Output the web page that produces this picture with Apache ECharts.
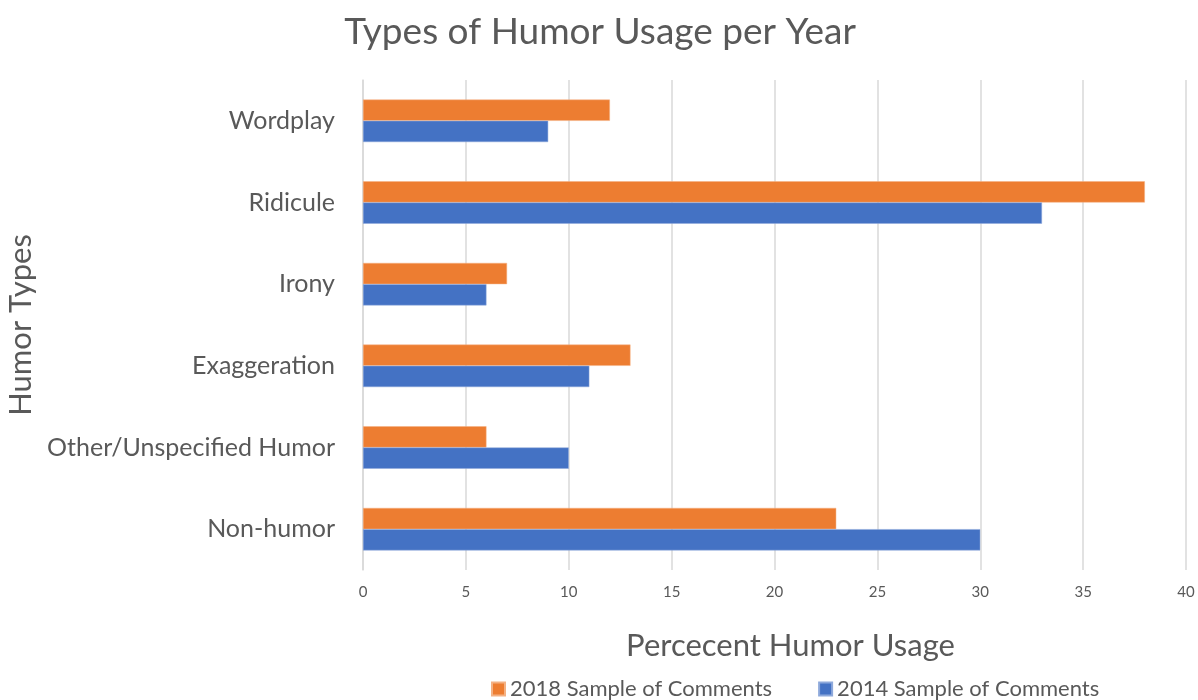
<!DOCTYPE html>
<html>
<head>
<meta charset="utf-8">
<script src="https://cdn.jsdelivr.net/npm/echarts@6/dist/echarts.min.js"></script>
<style>html,body{margin:0;padding:0;background:#fff}#c{width:1198px;height:700px}</style>
</head>
<body>
<div id="c"></div>
<script>
// Categories listed bottom to top (ECharts category y-axis starts at the bottom)
const categories = ['Non-humor', 'Other/Unspecified Humor', 'Exaggeration', 'Irony', 'Ridicule', 'Wordplay'];
const values2014 = [30, 10, 11, 6, 33, 9];
const values2018 = [23, 6, 13, 7, 38, 12];
const seriesNames = ['2014 Sample of Comments', '2018 Sample of Comments'];
const xTicks = [0, 5, 10, 15, 20, 25, 30, 35, 40];

const font = 'Lato, "Open Sans", sans-serif';
const txt = '#595959';
const chart = echarts.init(document.getElementById('c'), null, {renderer: 'canvas'});
chart.setOption({
  animation: false,
  textStyle: {fontFamily: font},
  title: {
    text: 'Types of Humor Usage per Year',
    left: 595, top: 9, textAlign: 'center',
    textStyle: {fontFamily: font, fontSize: 37, fontWeight: 'normal', color: txt}
  },
  legend: {
    data: [seriesNames[1], seriesNames[0]],
    left: 486, bottom: -5,
    itemWidth: 13, itemHeight: 13, itemGap: 46,
    icon: 'rect',
    textStyle: {fontFamily: font, fontSize: 22, color: txt}
  },
  grid: {left: 363, right: 12, top: 80, bottom: 130, containLabel: false, outerBoundsMode: 'none'},
  xAxis: {
    type: 'value', min: xTicks[0], max: xTicks[xTicks.length - 1], interval: 5,
    name: 'Percecent Humor Usage', nameLocation: 'middle', nameGap: 60,
    nameTextStyle: {fontFamily: font, fontSize: 31, color: txt, padding: [0, 0, 0, 32]},
    axisLine: {show: false}, axisTick: {show: false},
    axisLabel: {fontFamily: font, fontSize: 15, color: txt, margin: 15},
    splitLine: {lineStyle: {color: '#D9D9D9', width: 1.5}}
  },
  yAxis: {
    type: 'category', data: categories,
    name: 'Humor Types', nameLocation: 'middle', nameGap: 318, nameRotate: 90,
    nameTextStyle: {fontFamily: font, fontSize: 31, color: txt},
    axisLine: {show: true, lineStyle: {color: '#D9D9D9', width: 1.5}},
    axisTick: {show: false},
    axisLabel: {fontFamily: font, fontSize: 25, color: txt, margin: 28}
  },
  series: [
    {name: seriesNames[1], type: 'bar', data: values2018, barGap: '0%', barCategoryGap: '48%',
     itemStyle: {color: '#ED7D31', borderColor: '#F4B183', borderWidth: 0.5}},
    {name: seriesNames[0], type: 'bar', data: values2014, barGap: '0%', barCategoryGap: '48%',
     itemStyle: {color: '#4472C4', borderColor: '#8EA9DB', borderWidth: 0.5}}
  ]
});
</script>
</body>
</html>
